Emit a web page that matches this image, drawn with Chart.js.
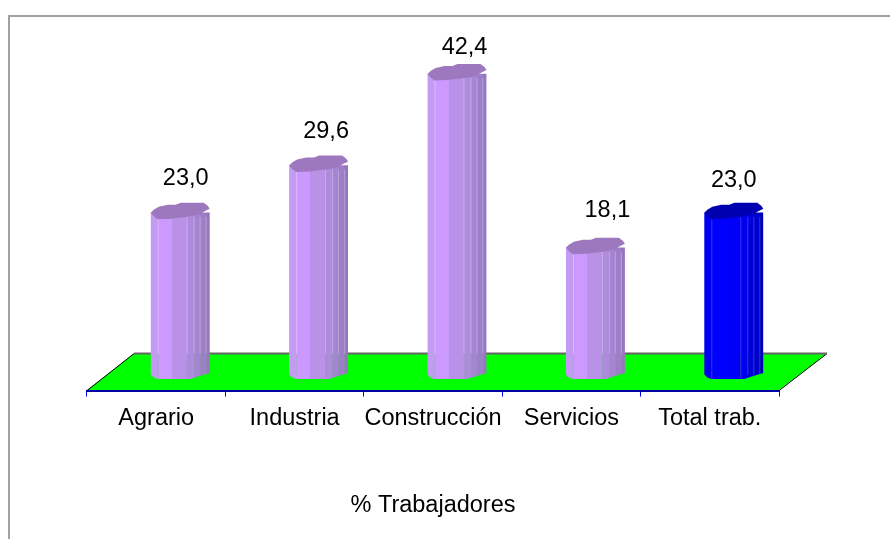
<!DOCTYPE html>
<html>
<head>
<meta charset="utf-8">
<title>% Trabajadores</title>
<script src="https://cdn.jsdelivr.net/npm/chart.js@4"></script>
<style>
  html, body { margin: 0; padding: 0; background: #fff; }
  canvas { display: block; }
</style>
</head>
<body>
<canvas id="myChart" width="890" height="539"></canvas>
<script>
const categories = ['Agrario', 'Industria', 'Construcción', 'Servicios', 'Total trab.']
const percentages = [23.0, 29.6, 42.4, 18.1, 23.0]
const axisTitle = '% Trabajadores'

const fontName = '"Liberation Sans", Arial, sans-serif'
const fontSize = 23.5
const barWidth = 59
const depthShift = 24

// strips of the faceted column, as offsets across the bar width
const stripEdges = [0, 7, 21, 36, 43, 49, 55, 59]
const purpleStrips = ['#c39bf2', '#cc99ff', '#b992e8', '#ae8bdc', '#a684d2', '#9e7ec8', '#9677bd']
const blueStrips = ['#0000f0', '#0000ff', '#0000fa', '#0000ee', '#0000dd', '#0000cc', '#0000bb']
const seams = [7, 36, 43, 49, 55]

// the value labels do not sit at the same spot over every column
const labelShiftX = [5.5, 7.5, 7.5, 12, 0]
const labelShiftY = [-34, -34, -27, -37, -32]

const capTop = [[0, 0], [3, -3], [8, -6], [17, -8], [25, -8], [30, -10], [53, -10], [57, -7], [59, -4]]
const capFront = [[53, -1], [49, 1.5], [37, 4], [20, 6], [7, 6.5], [3, 3.5], [0, 0]]
const footFront = [[0, 0], [3, 3], [7, 4.5], [40, 4.5], [49, 1.5], [59, -1.5]]

function isBlue(i) {
  return i === categories.length - 1
}

function barFill(context) {
  const chart = context.chart
  if (!chart.scales.x || context.dataIndex === undefined) return '#cc99ff'
  const left = chart.scales.x.getPixelForValue(context.dataIndex) - barWidth / 2
  if (!isFinite(left)) return '#cc99ff'
  const colors = isBlue(context.dataIndex) ? blueStrips : purpleStrips
  const gradient = chart.ctx.createLinearGradient(left, 0, left + barWidth, 0)
  colors.forEach((c, i) => {
    gradient.addColorStop(stripEdges[i] / barWidth, c)
    gradient.addColorStop(stripEdges[i + 1] / barWidth, c)
  })
  return gradient
}

function footY(chart) {
  return chart.scales.y.getPixelForValue(0) - 2.7
}

function tracePoints(ctx, x, y, points) {
  points.forEach(p => ctx.lineTo(x + p[0], y + p[1]))
}

const columnLook = {
  id: 'columnLook',
  beforeDraw(chart) {
    const ctx = chart.ctx
    ctx.save()
    ctx.fillStyle = '#ffffff'
    ctx.fillRect(0, 0, chart.width, chart.height)
    // frame only shows on the top and left
    ctx.strokeStyle = '#a0a0a0'
    ctx.lineWidth = 2
    ctx.beginPath()
    ctx.moveTo(9, chart.height)
    ctx.lineTo(9, 16)
    ctx.lineTo(chart.width, 16)
    ctx.stroke()
    ctx.restore()
  },
  beforeDatasetsDraw(chart) {
    // green floor
    const ctx = chart.ctx
    const { left, right, bottom } = chart.chartArea
    const backY = bottom - 37
    ctx.save()
    ctx.beginPath()
    ctx.moveTo(left, bottom - 0.5)
    ctx.lineTo(left + 47, backY)
    ctx.lineTo(right + 48, backY)
    ctx.lineTo(right, bottom - 0.5)
    ctx.closePath()
    ctx.fillStyle = '#00ff00'
    ctx.fill()
    ctx.strokeStyle = '#000000'
    ctx.lineWidth = 1
    ctx.beginPath()
    ctx.moveTo(left, bottom)
    ctx.lineTo(left + 47, backY)
    ctx.moveTo(right, bottom)
    ctx.lineTo(right + 48, backY)
    ctx.stroke()
    ctx.strokeStyle = '#666666'
    ctx.lineWidth = 2
    ctx.beginPath()
    ctx.moveTo(left + 47, backY)
    ctx.lineTo(right + 48, backY)
    ctx.stroke()
    ctx.restore()
  },
  beforeDatasetDraw(chart, args) {
    // columns stand further back than the axis, and the bars keep the rounded outline
    const ctx = chart.ctx
    const foot = footY(chart)
    ctx.save()
    ctx.translate(depthShift, 0)
    ctx.beginPath()
    args.meta.data.forEach(bar => {
      const x = bar.x - barWidth / 2
      ctx.moveTo(x, bar.y)
      tracePoints(ctx, x, bar.y, capTop)
      tracePoints(ctx, x, foot, footFront.slice().reverse())
      ctx.closePath()
    })
    ctx.clip()
  },
  afterDatasetDraw(chart, args) {
    const ctx = chart.ctx
    const foot = footY(chart)
    const backY = chart.chartArea.bottom - 37
    ctx.restore()
    ctx.save()
    ctx.translate(depthShift, 0)
    args.meta.data.forEach((bar, i) => {
      const x = bar.x - barWidth / 2
      seams.forEach(s => {
        ctx.lineWidth = 1
        ctx.strokeStyle = isBlue(i) ? 'rgba(120,120,255,0.45)' : 'rgba(255,255,255,0.3)'
        ctx.beginPath()
        ctx.moveTo(x + s + 0.5, bar.y + 4)
        ctx.lineTo(x + s + 0.5, backY)
        ctx.stroke()
        ctx.strokeStyle = 'rgba(110,190,130,0.35)'
        ctx.beginPath()
        ctx.moveTo(x + s + 0.5, backY)
        ctx.lineTo(x + s + 0.5, foot + (s < 40 ? 4 : 0))
        ctx.stroke()
      })
      ctx.beginPath()
      ctx.moveTo(x, bar.y)
      tracePoints(ctx, x, bar.y, capTop)
      tracePoints(ctx, x, bar.y, capFront)
      ctx.closePath()
      ctx.fillStyle = isBlue(i) ? '#0000b0' : '#9d78bf'
      ctx.fill()
    })
    ctx.restore()
  },
  afterDatasetsDraw(chart) {
    const ctx = chart.ctx
    const bars = chart.getDatasetMeta(0).data
    ctx.save()
    ctx.fillStyle = '#000000'
    ctx.font = fontSize + 'px ' + fontName
    ctx.textAlign = 'center'
    ctx.textBaseline = 'middle'
    bars.forEach((bar, i) => {
      const text = percentages[i].toFixed(1).replace('.', ',')
      ctx.fillText(text, bar.x + depthShift + labelShiftX[i], bar.y + labelShiftY[i])
    })
    ctx.restore()
  }
}

new Chart(document.getElementById('myChart'), {
  type: 'bar',
  plugins: [columnLook],
  data: {
    labels: categories,
    datasets: [{
      label: axisTitle,
      data: percentages,
      base: -0.7,
      backgroundColor: barFill,
      barThickness: barWidth,
      borderWidth: 0
    }]
  },
  options: {
    responsive: false,
    animation: false,
    events: [],
    layout: { padding: { left: 87, right: 111, top: 20, bottom: 19 } },
    plugins: { legend: { display: false }, tooltip: { enabled: false } },
    scales: {
      x: {
        border: { color: '#0000aa', width: 2 },
        grid: { color: '#0000ff', drawOnChartArea: false, tickLength: 6, tickWidth: 1 },
        ticks: { color: '#000000', font: { family: fontName, size: fontSize }, padding: 8, maxRotation: 0, autoSkip: false },
        title: { display: true, text: axisTitle, color: '#000000', font: { family: fontName, size: fontSize }, padding: { top: 51, bottom: 0 } }
      },
      y: { display: false, min: -1.86, max: 49.96 }
    }
  }
})
</script>
</body>
</html>
